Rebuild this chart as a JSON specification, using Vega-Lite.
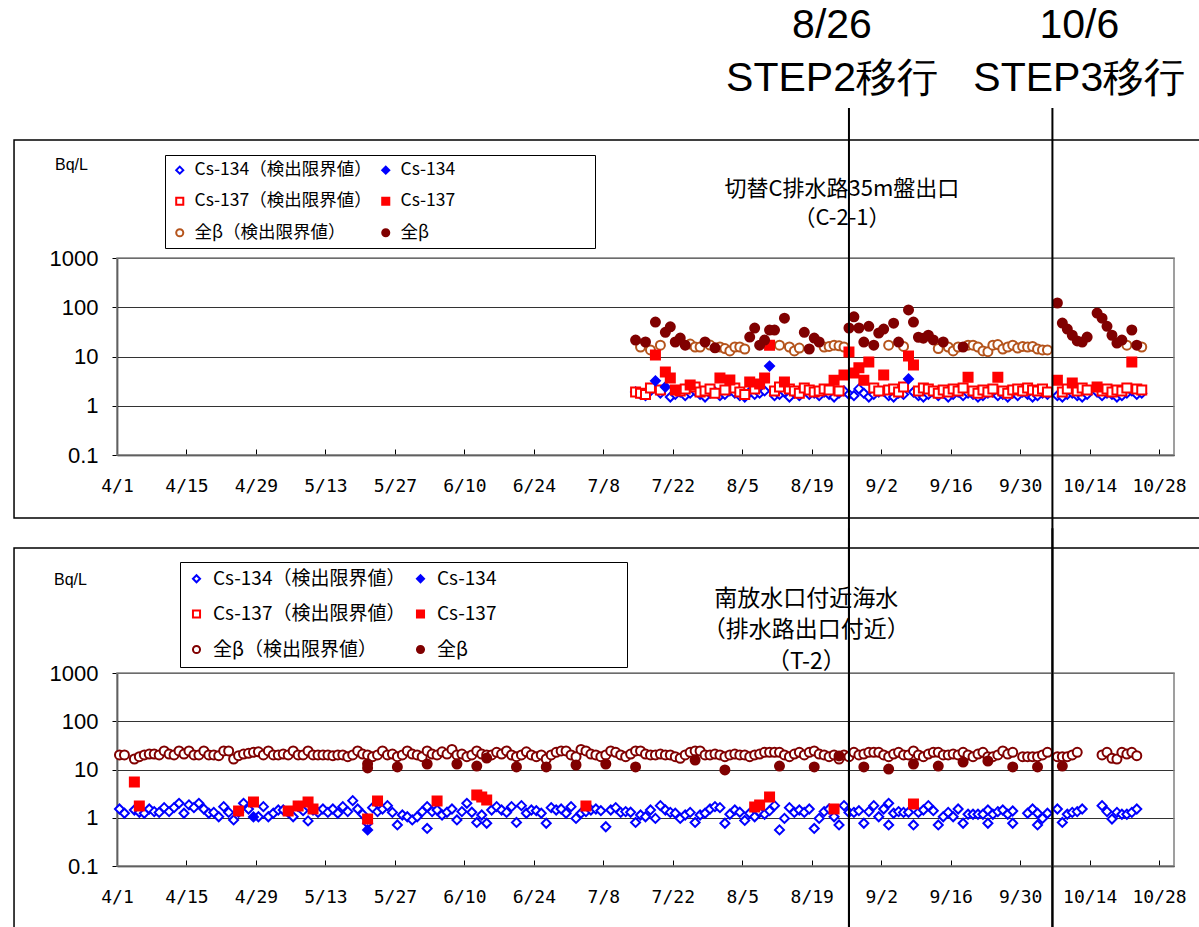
{
"$schema": "https://vega.github.io/schema/vega-lite/v6.json",
"width": 1199, "height": 927, "autosize": {"type": "none"}, "padding": 0,
"background": "white",
"config": {"view": {"stroke": null}, "font": "Noto Sans CJK JP"},
"datasets": {
"steps": [{"d": "2011-08-26"}, {"d": "2011-10-06"}],
"top": [
{"d":"2011-07-14","s":"134L","v":1.9},{"d":"2011-07-15","s":"134L","v":1.7},{"d":"2011-07-16","s":"134L","v":1.6},{"d":"2011-07-17","s":"134L","v":2.0},{"d":"2011-07-19","s":"134L","v":1.8},{"d":"2011-07-21","s":"134L","v":1.5},{"d":"2011-07-22","s":"134L","v":1.7},{"d":"2011-07-23","s":"134L","v":1.9},{"d":"2011-07-24","s":"134L","v":1.6},{"d":"2011-07-25","s":"134L","v":1.8},{"d":"2011-07-26","s":"134L","v":2.0},{"d":"2011-07-27","s":"134L","v":1.7},{"d":"2011-07-28","s":"134L","v":1.5},{"d":"2011-07-29","s":"134L","v":1.8},{"d":"2011-07-30","s":"134L","v":1.9},{"d":"2011-07-31","s":"134L","v":1.6},
{"d":"2011-08-01","s":"134L","v":1.7},{"d":"2011-08-02","s":"134L","v":2.0},{"d":"2011-08-03","s":"134L","v":1.8},{"d":"2011-08-04","s":"134L","v":1.6},{"d":"2011-08-05","s":"134L","v":1.5},{"d":"2011-08-06","s":"134L","v":1.9},{"d":"2011-08-07","s":"134L","v":1.7},{"d":"2011-08-08","s":"134L","v":1.8},{"d":"2011-08-09","s":"134L","v":2.0},{"d":"2011-08-11","s":"134L","v":1.6},{"d":"2011-08-12","s":"134L","v":1.7},{"d":"2011-08-13","s":"134L","v":1.9},{"d":"2011-08-14","s":"134L","v":1.5},{"d":"2011-08-15","s":"134L","v":1.8},{"d":"2011-08-16","s":"134L","v":1.6},{"d":"2011-08-17","s":"134L","v":2.1},{"d":"2011-08-18","s":"134L","v":1.7},{"d":"2011-08-19","s":"134L","v":1.8},{"d":"2011-08-20","s":"134L","v":1.6},{"d":"2011-08-21","s":"134L","v":1.9},{"d":"2011-08-22","s":"134L","v":1.7},{"d":"2011-08-23","s":"134L","v":1.5},{"d":"2011-08-24","s":"134L","v":1.8},{"d":"2011-08-25","s":"134L","v":2.0},{"d":"2011-08-26","s":"134L","v":1.7},{"d":"2011-08-27","s":"134L","v":1.6},{"d":"2011-08-28","s":"134L","v":2.2},{"d":"2011-08-29","s":"134L","v":1.8},{"d":"2011-08-30","s":"134L","v":1.5},{"d":"2011-08-31","s":"134L","v":1.7},
{"d":"2011-09-01","s":"134L","v":1.9},{"d":"2011-09-02","s":"134L","v":2.0},{"d":"2011-09-03","s":"134L","v":1.6},{"d":"2011-09-04","s":"134L","v":1.5},{"d":"2011-09-05","s":"134L","v":1.8},{"d":"2011-09-06","s":"134L","v":1.7},{"d":"2011-09-08","s":"134L","v":1.9},{"d":"2011-09-09","s":"134L","v":1.6},{"d":"2011-09-10","s":"134L","v":1.5},{"d":"2011-09-11","s":"134L","v":1.7},{"d":"2011-09-12","s":"134L","v":1.9},{"d":"2011-09-13","s":"134L","v":1.6},{"d":"2011-09-14","s":"134L","v":1.8},{"d":"2011-09-15","s":"134L","v":1.5},{"d":"2011-09-16","s":"134L","v":1.7},{"d":"2011-09-17","s":"134L","v":1.9},{"d":"2011-09-18","s":"134L","v":1.6},{"d":"2011-09-19","s":"134L","v":1.8},{"d":"2011-09-20","s":"134L","v":1.7},{"d":"2011-09-21","s":"134L","v":1.5},{"d":"2011-09-22","s":"134L","v":1.6},{"d":"2011-09-23","s":"134L","v":1.8},{"d":"2011-09-24","s":"134L","v":1.9},{"d":"2011-09-25","s":"134L","v":1.6},{"d":"2011-09-26","s":"134L","v":1.7},{"d":"2011-09-27","s":"134L","v":1.5},{"d":"2011-09-28","s":"134L","v":1.8},{"d":"2011-09-29","s":"134L","v":1.6},{"d":"2011-09-30","s":"134L","v":1.9},
{"d":"2011-10-01","s":"134L","v":1.7},{"d":"2011-10-02","s":"134L","v":1.5},{"d":"2011-10-03","s":"134L","v":1.6},{"d":"2011-10-04","s":"134L","v":1.8},{"d":"2011-10-05","s":"134L","v":1.7},{"d":"2011-10-07","s":"134L","v":1.6},{"d":"2011-10-08","s":"134L","v":1.5},{"d":"2011-10-09","s":"134L","v":1.7},{"d":"2011-10-10","s":"134L","v":1.8},{"d":"2011-10-11","s":"134L","v":1.6},{"d":"2011-10-12","s":"134L","v":1.5},{"d":"2011-10-13","s":"134L","v":1.7},{"d":"2011-10-15","s":"134L","v":1.9},{"d":"2011-10-16","s":"134L","v":1.6},{"d":"2011-10-17","s":"134L","v":1.8},{"d":"2011-10-18","s":"134L","v":1.7},{"d":"2011-10-19","s":"134L","v":1.5},{"d":"2011-10-20","s":"134L","v":1.6},{"d":"2011-10-21","s":"134L","v":1.8},{"d":"2011-10-22","s":"134L","v":2.0},{"d":"2011-10-23","s":"134L","v":1.7},{"d":"2011-10-24","s":"134L","v":1.8},
{"d":"2011-07-14","s":"137L","v":1.9},{"d":"2011-07-15","s":"137L","v":1.8},{"d":"2011-07-16","s":"137L","v":1.7},{"d":"2011-07-17","s":"137L","v":2.3},{"d":"2011-07-19","s":"137L","v":2.1},{"d":"2011-07-23","s":"137L","v":2.0},{"d":"2011-07-24","s":"137L","v":2.2},{"d":"2011-07-26","s":"137L","v":2.4},{"d":"2011-07-27","s":"137L","v":1.9},{"d":"2011-07-28","s":"137L","v":2.0},{"d":"2011-07-29","s":"137L","v":2.2},{"d":"2011-07-30","s":"137L","v":1.8},{"d":"2011-08-01","s":"137L","v":2.1},{"d":"2011-08-03","s":"137L","v":2.3},{"d":"2011-08-04","s":"137L","v":1.9},{"d":"2011-08-05","s":"137L","v":1.7},{"d":"2011-08-07","s":"137L","v":2.2},{"d":"2011-08-11","s":"137L","v":2.0},{"d":"2011-08-12","s":"137L","v":2.4},{"d":"2011-08-14","s":"137L","v":2.2},{"d":"2011-08-15","s":"137L","v":2.0},{"d":"2011-08-16","s":"137L","v":1.8},{"d":"2011-08-17","s":"137L","v":2.3},{"d":"2011-08-18","s":"137L","v":2.1},{"d":"2011-08-19","s":"137L","v":1.9},{"d":"2011-08-20","s":"137L","v":2.0},{"d":"2011-08-21","s":"137L","v":2.2},{"d":"2011-08-22","s":"137L","v":2.1},{"d":"2011-08-24","s":"137L","v":2.0},{"d":"2011-08-31","s":"137L","v":2.3},
{"d":"2011-09-01","s":"137L","v":2.0},{"d":"2011-09-03","s":"137L","v":2.1},{"d":"2011-09-04","s":"137L","v":2.2},{"d":"2011-09-05","s":"137L","v":1.9},{"d":"2011-09-06","s":"137L","v":2.4},{"d":"2011-09-09","s":"137L","v":2.0},{"d":"2011-09-10","s":"137L","v":2.3},{"d":"2011-09-11","s":"137L","v":2.2},{"d":"2011-09-12","s":"137L","v":2.0},{"d":"2011-09-13","s":"137L","v":1.8},{"d":"2011-09-14","s":"137L","v":2.1},{"d":"2011-09-15","s":"137L","v":1.9},{"d":"2011-09-16","s":"137L","v":2.2},{"d":"2011-09-17","s":"137L","v":2.0},{"d":"2011-09-18","s":"137L","v":2.3},{"d":"2011-09-20","s":"137L","v":2.0},{"d":"2011-09-21","s":"137L","v":1.8},{"d":"2011-09-22","s":"137L","v":2.1},{"d":"2011-09-23","s":"137L","v":1.9},{"d":"2011-09-24","s":"137L","v":2.2},{"d":"2011-09-26","s":"137L","v":2.0},{"d":"2011-09-27","s":"137L","v":1.8},{"d":"2011-09-28","s":"137L","v":2.1},{"d":"2011-09-29","s":"137L","v":2.2},{"d":"2011-09-30","s":"137L","v":2.0},
{"d":"2011-10-01","s":"137L","v":2.3},{"d":"2011-10-02","s":"137L","v":2.1},{"d":"2011-10-03","s":"137L","v":2.0},{"d":"2011-10-04","s":"137L","v":2.2},{"d":"2011-10-05","s":"137L","v":1.9},{"d":"2011-10-08","s":"137L","v":1.9},{"d":"2011-10-09","s":"137L","v":2.2},{"d":"2011-10-11","s":"137L","v":2.0},{"d":"2011-10-12","s":"137L","v":2.3},{"d":"2011-10-13","s":"137L","v":2.1},{"d":"2011-10-16","s":"137L","v":2.0},{"d":"2011-10-17","s":"137L","v":2.2},{"d":"2011-10-18","s":"137L","v":1.9},{"d":"2011-10-19","s":"137L","v":2.1},{"d":"2011-10-20","s":"137L","v":2.0},{"d":"2011-10-21","s":"137L","v":2.3},{"d":"2011-10-23","s":"137L","v":2.2},{"d":"2011-10-24","s":"137L","v":2.1},
{"d":"2011-07-15","s":"bL","v":15.6},{"d":"2011-07-17","s":"bL","v":13.6},{"d":"2011-07-19","s":"bL","v":17},{"d":"2011-07-25","s":"bL","v":17.9},{"d":"2011-07-26","s":"bL","v":15.6},{"d":"2011-07-27","s":"bL","v":15.6},{"d":"2011-07-29","s":"bL","v":17.1},{"d":"2011-07-31","s":"bL","v":15.6},{"d":"2011-08-01","s":"bL","v":14.5},{"d":"2011-08-02","s":"bL","v":13},{"d":"2011-08-03","s":"bL","v":15.6},{"d":"2011-08-04","s":"bL","v":15.6},{"d":"2011-08-05","s":"bL","v":14.2},{"d":"2011-08-12","s":"bL","v":17},{"d":"2011-08-14","s":"bL","v":15.6},{"d":"2011-08-15","s":"bL","v":13},{"d":"2011-08-16","s":"bL","v":14.8},{"d":"2011-08-21","s":"bL","v":15.6},{"d":"2011-08-22","s":"bL","v":16},{"d":"2011-08-23","s":"bL","v":17},{"d":"2011-08-24","s":"bL","v":16.5},{"d":"2011-08-25","s":"bL","v":15.6},{"d":"2011-09-03","s":"bL","v":17},{"d":"2011-09-06","s":"bL","v":16},{"d":"2011-09-13","s":"bL","v":14.5},{"d":"2011-09-15","s":"bL","v":15.6},{"d":"2011-09-16","s":"bL","v":13},{"d":"2011-09-17","s":"bL","v":15.6},{"d":"2011-09-19","s":"bL","v":17},{"d":"2011-09-20","s":"bL","v":17},{"d":"2011-09-21","s":"bL","v":15.6},{"d":"2011-09-22","s":"bL","v":13},{"d":"2011-09-23","s":"bL","v":12.5},{"d":"2011-09-24","s":"bL","v":17},{"d":"2011-09-25","s":"bL","v":17.5},{"d":"2011-09-26","s":"bL","v":14.2},{"d":"2011-09-27","s":"bL","v":15.6},{"d":"2011-09-28","s":"bL","v":17},{"d":"2011-09-29","s":"bL","v":14.8},{"d":"2011-09-30","s":"bL","v":16},{"d":"2011-10-01","s":"bL","v":15.6},{"d":"2011-10-02","s":"bL","v":16},{"d":"2011-10-03","s":"bL","v":14.2},{"d":"2011-10-04","s":"bL","v":13.6},{"d":"2011-10-05","s":"bL","v":13.6},{"d":"2011-10-21","s":"bL","v":17},{"d":"2011-10-24","s":"bL","v":15.6},
{"d":"2011-07-18","s":"134","v":3.2},{"d":"2011-07-20","s":"134","v":2.4},{"d":"2011-08-10","s":"134","v":6.4},{"d":"2011-09-07","s":"134","v":3.5},
{"d":"2011-07-18","s":"137","v":10.7},{"d":"2011-07-20","s":"137","v":4.85},{"d":"2011-07-21","s":"137","v":3.66},{"d":"2011-07-22","s":"137","v":2.09},{"d":"2011-07-25","s":"137","v":2.64},{"d":"2011-07-31","s":"137","v":3.66},{"d":"2011-08-02","s":"137","v":3.33},{"d":"2011-08-06","s":"137","v":3.04},{"d":"2011-08-08","s":"137","v":2.77},{"d":"2011-08-09","s":"137","v":3.66},{"d":"2011-08-10","s":"137","v":17},{"d":"2011-08-13","s":"137","v":3.04},{"d":"2011-08-23","s":"137","v":3.3},{"d":"2011-08-25","s":"137","v":4.2},{"d":"2011-08-26","s":"137","v":12.3},{"d":"2011-08-27","s":"137","v":4.6},{"d":"2011-08-28","s":"137","v":5.9},{"d":"2011-08-29","s":"137","v":3.3},{"d":"2011-08-30","s":"137","v":7.7},{"d":"2011-09-02","s":"137","v":4.2},{"d":"2011-09-07","s":"137","v":10.2},{"d":"2011-09-08","s":"137","v":6.7},{"d":"2011-09-19","s":"137","v":3.8},{"d":"2011-09-25","s":"137","v":3.8},{"d":"2011-10-07","s":"137","v":3.3},{"d":"2011-10-10","s":"137","v":2.9},{"d":"2011-10-15","s":"137","v":2.4},{"d":"2011-10-22","s":"137","v":7.7},
{"d":"2011-07-14","s":"b","v":21.6},{"d":"2011-07-16","s":"b","v":19.7},{"d":"2011-07-18","s":"b","v":50},{"d":"2011-07-20","s":"b","v":31},{"d":"2011-07-21","s":"b","v":40},{"d":"2011-07-22","s":"b","v":19.7},{"d":"2011-07-23","s":"b","v":23.7},{"d":"2011-07-24","s":"b","v":17},{"d":"2011-07-28","s":"b","v":19.7},{"d":"2011-07-30","s":"b","v":15},{"d":"2011-08-06","s":"b","v":24.8},{"d":"2011-08-07","s":"b","v":37.7},{"d":"2011-08-08","s":"b","v":17},{"d":"2011-08-09","s":"b","v":21.6},{"d":"2011-08-10","s":"b","v":34.4},{"d":"2011-08-11","s":"b","v":34.4},{"d":"2011-08-13","s":"b","v":60},{"d":"2011-08-17","s":"b","v":31},{"d":"2011-08-18","s":"b","v":14.2},{"d":"2011-08-19","s":"b","v":23.7},{"d":"2011-08-20","s":"b","v":19.7},{"d":"2011-08-26","s":"b","v":37.9},{"d":"2011-08-27","s":"b","v":64},{"d":"2011-08-28","s":"b","v":37.9},{"d":"2011-08-29","s":"b","v":19.6},{"d":"2011-08-30","s":"b","v":41},{"d":"2011-08-31","s":"b","v":17},{"d":"2011-09-01","s":"b","v":30},{"d":"2011-09-02","s":"b","v":36},{"d":"2011-09-04","s":"b","v":47.5},{"d":"2011-09-05","s":"b","v":19.6},{"d":"2011-09-07","s":"b","v":88},{"d":"2011-09-08","s":"b","v":50},{"d":"2011-09-09","s":"b","v":24.6},{"d":"2011-09-10","s":"b","v":23.6},{"d":"2011-09-11","s":"b","v":27},{"d":"2011-09-12","s":"b","v":21.7},{"d":"2011-09-14","s":"b","v":19.7},{"d":"2011-09-18","s":"b","v":15.6},{"d":"2011-10-07","s":"b","v":122},{"d":"2011-10-08","s":"b","v":47.8},{"d":"2011-10-09","s":"b","v":36},{"d":"2011-10-10","s":"b","v":27},{"d":"2011-10-11","s":"b","v":20.7},{"d":"2011-10-12","s":"b","v":19.7},{"d":"2011-10-13","s":"b","v":24.8},{"d":"2011-10-15","s":"b","v":76},{"d":"2011-10-16","s":"b","v":60},{"d":"2011-10-17","s":"b","v":41},{"d":"2011-10-18","s":"b","v":27},{"d":"2011-10-19","s":"b","v":18.7},{"d":"2011-10-20","s":"b","v":21.6},{"d":"2011-10-22","s":"b","v":34.5},{"d":"2011-10-23","s":"b","v":17}
],
"bot": [
{"d":"2011-04-01","s":"134L","v":1.52},{"d":"2011-04-02","s":"134L","v":1.24},{"d":"2011-04-04","s":"134L","v":1.45},{"d":"2011-04-05","s":"134L","v":1.3},{"d":"2011-04-06","s":"134L","v":1.24},{"d":"2011-04-07","s":"134L","v":1.52},{"d":"2011-04-08","s":"134L","v":1.34},{"d":"2011-04-09","s":"134L","v":1.29},{"d":"2011-04-10","s":"134L","v":1.62},{"d":"2011-04-11","s":"134L","v":1.34},{"d":"2011-04-12","s":"134L","v":1.62},{"d":"2011-04-13","s":"134L","v":1.99},{"d":"2011-04-14","s":"134L","v":1.24},{"d":"2011-04-15","s":"134L","v":1.85},{"d":"2011-04-16","s":"134L","v":1.62},{"d":"2011-04-17","s":"134L","v":1.99},{"d":"2011-04-18","s":"134L","v":1.52},{"d":"2011-04-19","s":"134L","v":1.24},{"d":"2011-04-20","s":"134L","v":1.29},{"d":"2011-04-21","s":"134L","v":1.05},{"d":"2011-04-22","s":"134L","v":1.7},{"d":"2011-04-23","s":"134L","v":1.29},{"d":"2011-04-24","s":"134L","v":0.9},{"d":"2011-04-25","s":"134L","v":1.3},{"d":"2011-04-26","s":"134L","v":1.99},{"d":"2011-04-27","s":"134L","v":1.52},{"d":"2011-04-29","s":"134L","v":1.05},{"d":"2011-04-30","s":"134L","v":1.7},
{"d":"2011-05-01","s":"134L","v":1.05},{"d":"2011-05-02","s":"134L","v":1.24},{"d":"2011-05-03","s":"134L","v":1.45},{"d":"2011-05-04","s":"134L","v":1.45},{"d":"2011-05-05","s":"134L","v":1.3},{"d":"2011-05-06","s":"134L","v":1.05},{"d":"2011-05-07","s":"134L","v":1.7},{"d":"2011-05-08","s":"134L","v":1.4},{"d":"2011-05-09","s":"134L","v":0.86},{"d":"2011-05-10","s":"134L","v":1.45},{"d":"2011-05-11","s":"134L","v":1.29},{"d":"2011-05-12","s":"134L","v":1.52},{"d":"2011-05-13","s":"134L","v":1.29},{"d":"2011-05-14","s":"134L","v":1.52},{"d":"2011-05-15","s":"134L","v":1.24},{"d":"2011-05-16","s":"134L","v":1.7},{"d":"2011-05-17","s":"134L","v":1.34},{"d":"2011-05-18","s":"134L","v":2.26},{"d":"2011-05-19","s":"134L","v":1.52},{"d":"2011-05-20","s":"134L","v":1.18},{"d":"2011-05-21","s":"134L","v":0.77},{"d":"2011-05-22","s":"134L","v":1.62},{"d":"2011-05-23","s":"134L","v":1.34},{"d":"2011-05-24","s":"134L","v":1.52},{"d":"2011-05-25","s":"134L","v":1.78},{"d":"2011-05-26","s":"134L","v":1.29},{"d":"2011-05-27","s":"134L","v":0.71},{"d":"2011-05-28","s":"134L","v":1.14},{"d":"2011-05-29","s":"134L","v":1.05},{"d":"2011-05-30","s":"134L","v":0.9},{"d":"2011-05-31","s":"134L","v":1.05},
{"d":"2011-06-01","s":"134L","v":1.34},{"d":"2011-06-02","s":"134L","v":1.7},{"d":"2011-06-02","s":"134L","v":0.6},{"d":"2011-06-03","s":"134L","v":1.34},{"d":"2011-06-04","s":"134L","v":1.45},{"d":"2011-06-05","s":"134L","v":1.14},{"d":"2011-06-06","s":"134L","v":1.3},{"d":"2011-06-07","s":"134L","v":1.52},{"d":"2011-06-08","s":"134L","v":0.9},{"d":"2011-06-09","s":"134L","v":1.34},{"d":"2011-06-10","s":"134L","v":1.99},{"d":"2011-06-11","s":"134L","v":1.3},{"d":"2011-06-12","s":"134L","v":0.8},{"d":"2011-06-13","s":"134L","v":1.14},{"d":"2011-06-14","s":"134L","v":0.77},{"d":"2011-06-15","s":"134L","v":1.45},{"d":"2011-06-16","s":"134L","v":1.7},{"d":"2011-06-17","s":"134L","v":1.45},{"d":"2011-06-18","s":"134L","v":1.29},{"d":"2011-06-19","s":"134L","v":1.7},{"d":"2011-06-20","s":"134L","v":0.8},{"d":"2011-06-21","s":"134L","v":1.78},{"d":"2011-06-22","s":"134L","v":1.24},{"d":"2011-06-23","s":"134L","v":1.45},{"d":"2011-06-24","s":"134L","v":1.4},{"d":"2011-06-25","s":"134L","v":1.24},{"d":"2011-06-26","s":"134L","v":0.77},{"d":"2011-06-27","s":"134L","v":1.62},{"d":"2011-06-28","s":"134L","v":1.45},{"d":"2011-06-29","s":"134L","v":1.52},{"d":"2011-06-30","s":"134L","v":1.24},
{"d":"2011-07-01","s":"134L","v":1.7},{"d":"2011-07-02","s":"134L","v":0.97},{"d":"2011-07-03","s":"134L","v":1.24},{"d":"2011-07-04","s":"134L","v":1.34},{"d":"2011-07-05","s":"134L","v":1.45},{"d":"2011-07-06","s":"134L","v":1.52},{"d":"2011-07-07","s":"134L","v":1.4},{"d":"2011-07-08","s":"134L","v":0.65},{"d":"2011-07-09","s":"134L","v":1.45},{"d":"2011-07-10","s":"134L","v":1.62},{"d":"2011-07-11","s":"134L","v":1.29},{"d":"2011-07-12","s":"134L","v":1.34},{"d":"2011-07-13","s":"134L","v":1.3},{"d":"2011-07-14","s":"134L","v":0.8},{"d":"2011-07-15","s":"134L","v":1.14},{"d":"2011-07-16","s":"134L","v":1.05},{"d":"2011-07-17","s":"134L","v":1.45},{"d":"2011-07-18","s":"134L","v":0.97},{"d":"2011-07-19","s":"134L","v":1.78},{"d":"2011-07-20","s":"134L","v":1.45},{"d":"2011-07-21","s":"134L","v":1.29},{"d":"2011-07-22","s":"134L","v":1.24},{"d":"2011-07-23","s":"134L","v":0.97},{"d":"2011-07-24","s":"134L","v":1.14},{"d":"2011-07-25","s":"134L","v":1.29},{"d":"2011-07-26","s":"134L","v":0.8},{"d":"2011-07-27","s":"134L","v":1.14},{"d":"2011-07-28","s":"134L","v":1.24},{"d":"2011-07-29","s":"134L","v":1.52},{"d":"2011-07-30","s":"134L","v":1.7},{"d":"2011-07-31","s":"134L","v":1.62},
{"d":"2011-08-01","s":"134L","v":0.77},{"d":"2011-08-02","s":"134L","v":1.18},{"d":"2011-08-03","s":"134L","v":1.45},{"d":"2011-08-04","s":"134L","v":1.3},{"d":"2011-08-05","s":"134L","v":0.88},{"d":"2011-08-06","s":"134L","v":1.24},{"d":"2011-08-07","s":"134L","v":1.05},{"d":"2011-08-08","s":"134L","v":1.3},{"d":"2011-08-09","s":"134L","v":1.18},{"d":"2011-08-10","s":"134L","v":1.4},{"d":"2011-08-11","s":"134L","v":1.78},{"d":"2011-08-12","s":"134L","v":0.56},{"d":"2011-08-13","s":"134L","v":0.97},{"d":"2011-08-14","s":"134L","v":1.62},{"d":"2011-08-15","s":"134L","v":1.29},{"d":"2011-08-16","s":"134L","v":1.45},{"d":"2011-08-17","s":"134L","v":1.29},{"d":"2011-08-18","s":"134L","v":1.52},{"d":"2011-08-19","s":"134L","v":0.6},{"d":"2011-08-20","s":"134L","v":0.97},{"d":"2011-08-21","s":"134L","v":1.34},{"d":"2011-08-22","s":"134L","v":1.52},{"d":"2011-08-23","s":"134L","v":1.05},{"d":"2011-08-24","s":"134L","v":0.71},{"d":"2011-08-25","s":"134L","v":1.78},{"d":"2011-08-26","s":"134L","v":1.29},{"d":"2011-08-27","s":"134L","v":1.29},{"d":"2011-08-28","s":"134L","v":1.4},{"d":"2011-08-29","s":"134L","v":0.77},{"d":"2011-08-30","s":"134L","v":1.34},{"d":"2011-08-31","s":"134L","v":1.78},
{"d":"2011-09-01","s":"134L","v":1.05},{"d":"2011-09-02","s":"134L","v":1.52},{"d":"2011-09-03","s":"134L","v":1.99},{"d":"2011-09-03","s":"134L","v":0.71},{"d":"2011-09-04","s":"134L","v":1.24},{"d":"2011-09-05","s":"134L","v":1.34},{"d":"2011-09-06","s":"134L","v":1.29},{"d":"2011-09-07","s":"134L","v":1.3},{"d":"2011-09-08","s":"134L","v":0.71},{"d":"2011-09-09","s":"134L","v":1.29},{"d":"2011-09-10","s":"134L","v":1.45},{"d":"2011-09-11","s":"134L","v":1.78},{"d":"2011-09-12","s":"134L","v":1.4},{"d":"2011-09-13","s":"134L","v":0.71},{"d":"2011-09-14","s":"134L","v":1.05},{"d":"2011-09-15","s":"134L","v":1.29},{"d":"2011-09-16","s":"134L","v":1.05},{"d":"2011-09-17","s":"134L","v":1.52},{"d":"2011-09-18","s":"134L","v":0.77},{"d":"2011-09-19","s":"134L","v":1.18},{"d":"2011-09-20","s":"134L","v":1.18},{"d":"2011-09-21","s":"134L","v":1.18},{"d":"2011-09-22","s":"134L","v":1.18},{"d":"2011-09-23","s":"134L","v":1.45},{"d":"2011-09-23","s":"134L","v":0.77},{"d":"2011-09-24","s":"134L","v":1.18},{"d":"2011-09-25","s":"134L","v":1.34},{"d":"2011-09-26","s":"134L","v":1.45},{"d":"2011-09-27","s":"134L","v":1.18},{"d":"2011-09-28","s":"134L","v":1.38},{"d":"2011-09-28","s":"134L","v":0.77},
{"d":"2011-10-01","s":"134L","v":1.24},{"d":"2011-10-02","s":"134L","v":1.52},{"d":"2011-10-03","s":"134L","v":1.24},{"d":"2011-10-03","s":"134L","v":0.71},{"d":"2011-10-04","s":"134L","v":0.97},{"d":"2011-10-05","s":"134L","v":1.24},{"d":"2011-10-07","s":"134L","v":1.52},{"d":"2011-10-08","s":"134L","v":0.8},{"d":"2011-10-09","s":"134L","v":1.18},{"d":"2011-10-10","s":"134L","v":1.29},{"d":"2011-10-11","s":"134L","v":1.34},{"d":"2011-10-12","s":"134L","v":1.52},{"d":"2011-10-16","s":"134L","v":1.78},{"d":"2011-10-17","s":"134L","v":1.34},{"d":"2011-10-18","s":"134L","v":0.94},{"d":"2011-10-19","s":"134L","v":1.29},{"d":"2011-10-20","s":"134L","v":1.18},{"d":"2011-10-21","s":"134L","v":1.18},{"d":"2011-10-22","s":"134L","v":1.29},{"d":"2011-10-23","s":"134L","v":1.52},
{"d":"2011-04-01","s":"bL","v":20.0},{"d":"2011-04-02","s":"bL","v":20.0},{"d":"2011-04-04","s":"bL","v":16.5},{"d":"2011-04-05","s":"bL","v":18.4},{"d":"2011-04-06","s":"bL","v":20.0},{"d":"2011-04-07","s":"bL","v":20.9},{"d":"2011-04-08","s":"bL","v":20.9},{"d":"2011-04-09","s":"bL","v":20.0},{"d":"2011-04-10","s":"bL","v":24.2},{"d":"2011-04-11","s":"bL","v":20.9},{"d":"2011-04-12","s":"bL","v":20.0},{"d":"2011-04-13","s":"bL","v":24.2},{"d":"2011-04-14","s":"bL","v":20.9},{"d":"2011-04-15","s":"bL","v":24.2},{"d":"2011-04-16","s":"bL","v":20.0},{"d":"2011-04-17","s":"bL","v":20.0},{"d":"2011-04-18","s":"bL","v":24.2},{"d":"2011-04-19","s":"bL","v":20.0},{"d":"2011-04-20","s":"bL","v":20.0},{"d":"2011-04-21","s":"bL","v":19.3},{"d":"2011-04-22","s":"bL","v":24.2},{"d":"2011-04-23","s":"bL","v":24.2},{"d":"2011-04-24","s":"bL","v":16.5},{"d":"2011-04-25","s":"bL","v":19.3},{"d":"2011-04-26","s":"bL","v":20.9},{"d":"2011-04-27","s":"bL","v":21.6},{"d":"2011-04-28","s":"bL","v":22.7},{"d":"2011-04-29","s":"bL","v":23.2},{"d":"2011-04-30","s":"bL","v":20.0},
{"d":"2011-05-01","s":"bL","v":24.2},{"d":"2011-05-02","s":"bL","v":20.0},{"d":"2011-05-03","s":"bL","v":20.0},{"d":"2011-05-04","s":"bL","v":20.9},{"d":"2011-05-05","s":"bL","v":20.0},{"d":"2011-05-06","s":"bL","v":24.2},{"d":"2011-05-07","s":"bL","v":20.0},{"d":"2011-05-08","s":"bL","v":20.0},{"d":"2011-05-09","s":"bL","v":24.2},{"d":"2011-05-10","s":"bL","v":20.0},{"d":"2011-05-11","s":"bL","v":20.0},{"d":"2011-05-12","s":"bL","v":20.0},{"d":"2011-05-13","s":"bL","v":20.0},{"d":"2011-05-14","s":"bL","v":19.3},{"d":"2011-05-15","s":"bL","v":20.0},{"d":"2011-05-16","s":"bL","v":20.0},{"d":"2011-05-17","s":"bL","v":18.4},{"d":"2011-05-18","s":"bL","v":20.0},{"d":"2011-05-19","s":"bL","v":24.2},{"d":"2011-05-20","s":"bL","v":20.9},{"d":"2011-05-21","s":"bL","v":20.0},{"d":"2011-05-22","s":"bL","v":18.4},{"d":"2011-05-23","s":"bL","v":20.0},{"d":"2011-05-24","s":"bL","v":24.2},{"d":"2011-05-25","s":"bL","v":20.0},{"d":"2011-05-26","s":"bL","v":20.9},{"d":"2011-05-27","s":"bL","v":18.4},{"d":"2011-05-28","s":"bL","v":20.0},{"d":"2011-05-29","s":"bL","v":24.2},{"d":"2011-05-30","s":"bL","v":20.9},{"d":"2011-05-31","s":"bL","v":20.0},
{"d":"2011-06-01","s":"bL","v":18.4},{"d":"2011-06-02","s":"bL","v":24.2},{"d":"2011-06-03","s":"bL","v":20.9},{"d":"2011-06-04","s":"bL","v":20.0},{"d":"2011-06-05","s":"bL","v":23.2},{"d":"2011-06-06","s":"bL","v":20.9},{"d":"2011-06-07","s":"bL","v":26.0},{"d":"2011-06-08","s":"bL","v":20.0},{"d":"2011-06-09","s":"bL","v":20.9},{"d":"2011-06-10","s":"bL","v":18.4},{"d":"2011-06-11","s":"bL","v":20.0},{"d":"2011-06-12","s":"bL","v":24.2},{"d":"2011-06-13","s":"bL","v":20.9},{"d":"2011-06-14","s":"bL","v":20.0},{"d":"2011-06-15","s":"bL","v":20.0},{"d":"2011-06-16","s":"bL","v":22.7},{"d":"2011-06-17","s":"bL","v":20.9},{"d":"2011-06-18","s":"bL","v":24.2},{"d":"2011-06-19","s":"bL","v":20.0},{"d":"2011-06-20","s":"bL","v":18.4},{"d":"2011-06-21","s":"bL","v":20.0},{"d":"2011-06-22","s":"bL","v":23.2},{"d":"2011-06-23","s":"bL","v":20.0},{"d":"2011-06-24","s":"bL","v":18.4},{"d":"2011-06-25","s":"bL","v":20.0},{"d":"2011-06-26","s":"bL","v":16.5},{"d":"2011-06-27","s":"bL","v":20.0},{"d":"2011-06-28","s":"bL","v":22.7},{"d":"2011-06-29","s":"bL","v":24.2},{"d":"2011-06-30","s":"bL","v":24.2},
{"d":"2011-07-01","s":"bL","v":20.0},{"d":"2011-07-02","s":"bL","v":18.4},{"d":"2011-07-03","s":"bL","v":26.0},{"d":"2011-07-04","s":"bL","v":24.2},{"d":"2011-07-05","s":"bL","v":20.9},{"d":"2011-07-06","s":"bL","v":20.0},{"d":"2011-07-07","s":"bL","v":18.4},{"d":"2011-07-08","s":"bL","v":20.0},{"d":"2011-07-09","s":"bL","v":24.2},{"d":"2011-07-10","s":"bL","v":22.7},{"d":"2011-07-11","s":"bL","v":20.0},{"d":"2011-07-12","s":"bL","v":18.4},{"d":"2011-07-13","s":"bL","v":20.9},{"d":"2011-07-14","s":"bL","v":24.2},{"d":"2011-07-15","s":"bL","v":24.2},{"d":"2011-07-16","s":"bL","v":20.9},{"d":"2011-07-17","s":"bL","v":20.0},{"d":"2011-07-18","s":"bL","v":20.0},{"d":"2011-07-19","s":"bL","v":20.9},{"d":"2011-07-20","s":"bL","v":20.0},{"d":"2011-07-21","s":"bL","v":20.0},{"d":"2011-07-22","s":"bL","v":18.4},{"d":"2011-07-23","s":"bL","v":17.1},{"d":"2011-07-24","s":"bL","v":20.0},{"d":"2011-07-25","s":"bL","v":22.7},{"d":"2011-07-26","s":"bL","v":24.2},{"d":"2011-07-27","s":"bL","v":24.2},{"d":"2011-07-28","s":"bL","v":20.0},{"d":"2011-07-29","s":"bL","v":20.0},{"d":"2011-07-30","s":"bL","v":20.9},{"d":"2011-07-31","s":"bL","v":20.0},
{"d":"2011-08-01","s":"bL","v":18.4},{"d":"2011-08-02","s":"bL","v":20.0},{"d":"2011-08-03","s":"bL","v":20.9},{"d":"2011-08-04","s":"bL","v":20.0},{"d":"2011-08-05","s":"bL","v":20.0},{"d":"2011-08-06","s":"bL","v":18.4},{"d":"2011-08-07","s":"bL","v":20.0},{"d":"2011-08-08","s":"bL","v":20.9},{"d":"2011-08-09","s":"bL","v":22.7},{"d":"2011-08-10","s":"bL","v":22.7},{"d":"2011-08-11","s":"bL","v":22.7},{"d":"2011-08-12","s":"bL","v":22.7},{"d":"2011-08-13","s":"bL","v":20.0},{"d":"2011-08-14","s":"bL","v":18.4},{"d":"2011-08-15","s":"bL","v":20.9},{"d":"2011-08-16","s":"bL","v":22.7},{"d":"2011-08-17","s":"bL","v":20.0},{"d":"2011-08-18","s":"bL","v":22.7},{"d":"2011-08-19","s":"bL","v":24.2},{"d":"2011-08-20","s":"bL","v":20.9},{"d":"2011-08-21","s":"bL","v":20.0},{"d":"2011-08-22","s":"bL","v":18.4},{"d":"2011-08-23","s":"bL","v":20.0},{"d":"2011-08-24","s":"bL","v":16.5},{"d":"2011-08-25","s":"bL","v":20.0},{"d":"2011-08-26","s":"bL","v":18.4},{"d":"2011-08-27","s":"bL","v":22.7},{"d":"2011-08-28","s":"bL","v":20.0},{"d":"2011-08-29","s":"bL","v":20.9},{"d":"2011-08-30","s":"bL","v":22.7},{"d":"2011-08-31","s":"bL","v":22.7},
{"d":"2011-09-01","s":"bL","v":22.7},{"d":"2011-09-02","s":"bL","v":20.0},{"d":"2011-09-03","s":"bL","v":18.4},{"d":"2011-09-04","s":"bL","v":20.9},{"d":"2011-09-05","s":"bL","v":22.7},{"d":"2011-09-06","s":"bL","v":20.0},{"d":"2011-09-07","s":"bL","v":20.0},{"d":"2011-09-08","s":"bL","v":24.2},{"d":"2011-09-09","s":"bL","v":20.0},{"d":"2011-09-10","s":"bL","v":18.4},{"d":"2011-09-11","s":"bL","v":20.9},{"d":"2011-09-12","s":"bL","v":22.7},{"d":"2011-09-13","s":"bL","v":22.7},{"d":"2011-09-14","s":"bL","v":20.0},{"d":"2011-09-15","s":"bL","v":20.0},{"d":"2011-09-16","s":"bL","v":20.9},{"d":"2011-09-17","s":"bL","v":20.0},{"d":"2011-09-18","s":"bL","v":22.7},{"d":"2011-09-19","s":"bL","v":20.0},{"d":"2011-09-20","s":"bL","v":18.4},{"d":"2011-09-21","s":"bL","v":20.9},{"d":"2011-09-22","s":"bL","v":22.7},{"d":"2011-09-23","s":"bL","v":18.4},{"d":"2011-09-24","s":"bL","v":18.4},{"d":"2011-09-25","s":"bL","v":20.0},{"d":"2011-09-26","s":"bL","v":24.2},{"d":"2011-09-27","s":"bL","v":20.9},{"d":"2011-09-28","s":"bL","v":22.7},{"d":"2011-09-30","s":"bL","v":18.4},
{"d":"2011-10-01","s":"bL","v":18.4},{"d":"2011-10-02","s":"bL","v":18.4},{"d":"2011-10-03","s":"bL","v":18.4},{"d":"2011-10-04","s":"bL","v":20.0},{"d":"2011-10-05","s":"bL","v":22.7},{"d":"2011-10-07","s":"bL","v":18.4},{"d":"2011-10-08","s":"bL","v":18.4},{"d":"2011-10-09","s":"bL","v":18.4},{"d":"2011-10-10","s":"bL","v":20.0},{"d":"2011-10-11","s":"bL","v":22.7},{"d":"2011-10-16","s":"bL","v":20.0},{"d":"2011-10-17","s":"bL","v":22.7},{"d":"2011-10-18","s":"bL","v":17.1},{"d":"2011-10-19","s":"bL","v":16.5},{"d":"2011-10-20","s":"bL","v":22.7},{"d":"2011-10-21","s":"bL","v":20.9},{"d":"2011-10-22","s":"bL","v":22.7},{"d":"2011-10-23","s":"bL","v":19.3},
{"d":"2011-04-28","s":"134","v":1.04},{"d":"2011-05-21","s":"134","v":0.56},
{"d":"2011-04-04","s":"137","v":5.5},{"d":"2011-04-05","s":"137","v":1.75},{"d":"2011-04-25","s":"137","v":1.38},{"d":"2011-04-28","s":"137","v":2.12},{"d":"2011-05-05","s":"137","v":1.38},{"d":"2011-05-07","s":"137","v":1.75},{"d":"2011-05-09","s":"137","v":2.12},{"d":"2011-05-10","s":"137","v":1.52},{"d":"2011-05-21","s":"137","v":0.94},{"d":"2011-05-23","s":"137","v":2.22},{"d":"2011-06-04","s":"137","v":2.22},{"d":"2011-06-12","s":"137","v":2.96},{"d":"2011-06-13","s":"137","v":2.69},{"d":"2011-06-14","s":"137","v":2.33},{"d":"2011-07-04","s":"137","v":1.75},{"d":"2011-08-07","s":"137","v":1.67},{"d":"2011-08-08","s":"137","v":1.84},{"d":"2011-08-10","s":"137","v":2.69},{"d":"2011-08-23","s":"137","v":1.52},{"d":"2011-09-08","s":"137","v":1.93},
{"d":"2011-05-21","s":"b","v":13.0},{"d":"2011-05-21","s":"b","v":10.8},{"d":"2011-05-27","s":"b","v":11.3},{"d":"2011-06-02","s":"b","v":13.0},{"d":"2011-06-08","s":"b","v":13.0},{"d":"2011-06-12","s":"b","v":11.8},{"d":"2011-06-14","s":"b","v":17.3},{"d":"2011-06-20","s":"b","v":11.3},{"d":"2011-06-26","s":"b","v":11.3},{"d":"2011-07-02","s":"b","v":12.4},{"d":"2011-07-08","s":"b","v":13.0},{"d":"2011-07-14","s":"b","v":11.3},{"d":"2011-07-26","s":"b","v":15.7},{"d":"2011-08-01","s":"b","v":9.8},{"d":"2011-08-12","s":"b","v":11.8},{"d":"2011-08-19","s":"b","v":11.3},{"d":"2011-08-24","s":"b","v":19.1},{"d":"2011-08-29","s":"b","v":11.3},{"d":"2011-09-03","s":"b","v":10.2},{"d":"2011-09-08","s":"b","v":13.0},{"d":"2011-09-13","s":"b","v":11.8},{"d":"2011-09-18","s":"b","v":14.3},{"d":"2011-09-23","s":"b","v":15.0},{"d":"2011-09-28","s":"b","v":11.3},{"d":"2011-10-03","s":"b","v":11.3},{"d":"2011-10-08","s":"b","v":11.8}
]
},
"resolve": {
  "scale": {"x": "independent", "y": "independent", "shape": "independent", "fill": "independent", "stroke": "independent"},
  "axis": {"x": "independent", "y": "independent"},
  "legend": {"shape": "independent", "fill": "independent", "stroke": "independent"}
},
"layer": [
{
  "layer": [
    {"data": {"values": [{}]},
     "mark": {"type": "rect", "fillOpacity": 0, "stroke": "black", "strokeWidth": 1.5},
     "encoding": {
       "x": {"datum": {"year": 2011, "month": 3, "date": 10, "hours": 18, "utc": true}, "type": "temporal"},
       "x2": {"datum": {"year": 2011, "month": 11, "date": 6, "utc": true}},
       "y": {"datum": 249000, "type": "quantitative"},
       "y2": {"datum": 0.00526}
     }},
    {"data": {"values": [{}]},
     "mark": {"type": "rect", "fillOpacity": 0, "stroke": "#808080", "strokeWidth": 1.5},
     "encoding": {
       "x": {"datum": {"year": 2011, "month": 3, "date": 31, "hours": 12, "utc": true}, "type": "temporal"},
       "x2": {"datum": {"year": 2011, "month": 10, "date": 30, "hours": 12, "utc": true}},
       "y": {"datum": 1000, "type": "quantitative"},
       "y2": {"datum": 0.1}
     }},
    {"data": {"name": "top"},
     "mark": {"type": "point", "size": 81, "strokeWidth": 2, "opacity": 1},
     "encoding": {
       "x": {"field": "d", "type": "temporal",
             "scale": {"type": "utc", "domain": [{"year": 2011, "month": 3, "date": 31, "hours": 12, "utc": true}, {"year": 2011, "month": 10, "date": 30, "hours": 12, "utc": true}], "range": [117, 1174], "nice": false},
             "axis": {"orient": "bottom", "offset": -472, "title": null, "grid": false,
                      "values": [{"year":2011,"month":3,"date":31,"hours":12,"utc":true},{"year":2011,"month":4,"date":14,"hours":12,"utc":true},{"year":2011,"month":4,"date":28,"hours":12,"utc":true},{"year":2011,"month":5,"date":12,"hours":12,"utc":true},{"year":2011,"month":5,"date":26,"hours":12,"utc":true},{"year":2011,"month":6,"date":9,"hours":12,"utc":true},{"year":2011,"month":6,"date":23,"hours":12,"utc":true},{"year":2011,"month":7,"date":7,"hours":12,"utc":true},{"year":2011,"month":7,"date":21,"hours":12,"utc":true},{"year":2011,"month":8,"date":4,"hours":12,"utc":true},{"year":2011,"month":8,"date":18,"hours":12,"utc":true},{"year":2011,"month":9,"date":1,"hours":12,"utc":true},{"year":2011,"month":9,"date":15,"hours":12,"utc":true},{"year":2011,"month":9,"date":29,"hours":12,"utc":true},{"year":2011,"month":10,"date":13,"hours":12,"utc":true},{"year":2011,"month":10,"date":27,"hours":12,"utc":true}],
                      "labelExpr": "utcFormat(datum.value + 43200000, '%-m/%-d')",
                      "domainColor": "black", "domainWidth": 1.5, "tickColor": "black", "tickSize": -6, "tickWidth": 1,
                      "labelPadding": 28, "labelFont": "DejaVu Sans Mono", "labelFontSize": 18, "labelColor": "black",
                      "labelOverlap": false, "labelFlush": false}},
       "y": {"field": "v", "type": "quantitative",
             "scale": {"type": "log", "domain": [0.1, 1000], "range": [455, 258], "nice": false},
             "axis": {"orient": "left", "offset": -117, "values": [0.1, 1, 10, 100, 1000], "format": "~g",
                      "title": "Bq/L", "titleAngle": 0, "titleX": -46, "titleY": 164, "titleAlign": "center", "titleBaseline": "middle",
                      "titleFont": "Liberation Sans", "titleFontSize": 16, "titleFontWeight": "normal", "titleColor": "black",
                      "grid": true, "gridColor": "#333333", "gridWidth": 1,
                      "domainColor": "black", "domainWidth": 1.5, "tickColor": "black", "tickSize": 5,
                      "labelPadding": 14, "labelFont": "Liberation Sans", "labelFontSize": 22, "labelColor": "black"}},
       "shape": {"field": "s", "type": "nominal",
                 "scale": {"domain": ["134L", "134", "137L", "137", "bL", "b"], "range": ["diamond", "diamond", "square", "square", "circle", "circle"]},
                 "legend": {"orient": "none", "direction": "horizontal", "legendX": 165, "legendY": 155, "columns": 2, "title": null, "strokeColor": "black", "fillColor": "white", "padding": 6, "rowPadding": 12.5, "columnPadding": 5, "labelFontSize": 17.5, "labelFont": "Noto Sans CJK JP", "labelColor": "black", "labelLimit": 0, "labelOffset": 6, "symbolSize": 50, "symbolStrokeWidth": 2,
                            "labelExpr": "datum.label == '134L' ? 'Cs-134（検出限界値）' : datum.label == '134' ? 'Cs-134\u00a0\u00a0\u00a0\u00a0\u00a0\u00a0\u00a0\u00a0\u00a0\u00a0\u00a0\u00a0\u00a0\u00a0\u00a0\u00a0\u00a0\u00a0\u00a0\u00a0\u00a0\u00a0\u00a0\u00a0\u00a0\u00a0\u00a0\u00a0\u00a0\u00a0\u00a0\u00a0\u00a0\u00a0\u200b' : datum.label == '137L' ? 'Cs-137（検出限界値）' : datum.label == '137' ? 'Cs-137' : datum.label == 'bL' ? '全β（検出限界値）' : '全β'"}},
       "fill": {"field": "s", "type": "nominal",
                "scale": {"domain": ["134L", "134", "137L", "137", "bL", "b"], "range": ["white", "#0000ff", "white", "#ff0000", "white", "#800000"]},
                "legend": {"orient": "none", "direction": "horizontal", "legendX": 165, "legendY": 155, "columns": 2, "title": null}},
       "stroke": {"field": "s", "type": "nominal",
                  "scale": {"domain": ["134L", "134", "137L", "137", "bL", "b"], "range": ["#0000ff", "#0000ff", "#ff0000", "#ff0000", "#b5541c", "#800000"]},
                  "legend": {"orient": "none", "direction": "horizontal", "legendX": 165, "legendY": 155, "columns": 2, "title": null}}
     }},
    {"data": {"name": "steps"},
     "mark": {"type": "rule", "color": "black", "strokeWidth": 2},
     "encoding": {
       "x": {"field": "d", "type": "temporal"},
       "y": {"datum": 1110000, "type": "quantitative"},
       "y2": {"datum": 1e-12}
     }},
    {"data": {"values": [{}]},
     "mark": {"type": "text", "align": "center", "baseline": "middle", "font": "Liberation Sans", "fontSize": 41, "lineHeight": 53, "color": "black"},
     "encoding": {
       "x": {"datum": {"year": 2011, "month": 8, "date": 22, "hours": 14, "utc": true}, "type": "temporal"},
       "y": {"datum": 51400000, "type": "quantitative"},
       "text": {"value": ["8/26", "STEP2移行"]}
     }},
    {"data": {"values": [{}]},
     "mark": {"type": "text", "align": "center", "baseline": "middle", "font": "Liberation Sans", "fontSize": 41, "lineHeight": 53, "color": "black"},
     "encoding": {
       "x": {"datum": {"year": 2011, "month": 10, "date": 11, "hours": 10, "utc": true}, "type": "temporal"},
       "y": {"datum": 51400000, "type": "quantitative"},
       "text": {"value": ["10/6", "STEP3移行"]}
     }},
    {"data": {"values": [{}]},
     "mark": {"type": "text", "align": "center", "baseline": "middle", "font": "Noto Sans CJK JP", "fontSize": 22, "lineHeight": 29, "color": "black"},
     "encoding": {
       "x": {"datum": {"year": 2011, "month": 8, "date": 24, "hours": 14, "utc": true}, "type": "temporal"},
       "y": {"datum": 25200, "type": "quantitative"},
       "text": {"value": ["切替C排水路35m盤出口", "（C-2-1）"]}
     }}
  ]
},
{
  "layer": [
    {"data": {"values": [{}]},
     "mark": {"type": "rect", "fillOpacity": 0, "stroke": "black", "strokeWidth": 1.5},
     "encoding": {
       "x": {"datum": {"year": 2011, "month": 3, "date": 10, "hours": 18, "utc": true}, "type": "temporal"},
       "x2": {"datum": {"year": 2011, "month": 11, "date": 6, "utc": true}},
       "y": {"datum": 389000, "type": "quantitative"},
       "y2": {"datum": 0.00286}
     }},
    {"data": {"values": [{}]},
     "mark": {"type": "rect", "fillOpacity": 0, "stroke": "#808080", "strokeWidth": 1.5},
     "encoding": {
       "x": {"datum": {"year": 2011, "month": 3, "date": 31, "hours": 12, "utc": true}, "type": "temporal"},
       "x2": {"datum": {"year": 2011, "month": 10, "date": 30, "hours": 12, "utc": true}},
       "y": {"datum": 1000, "type": "quantitative"},
       "y2": {"datum": 0.1}
     }},
    {"data": {"name": "bot"},
     "mark": {"type": "point", "size": 81, "strokeWidth": 2, "opacity": 1},
     "encoding": {
       "x": {"field": "d", "type": "temporal",
             "scale": {"type": "utc", "domain": [{"year": 2011, "month": 3, "date": 31, "hours": 12, "utc": true}, {"year": 2011, "month": 10, "date": 30, "hours": 12, "utc": true}], "range": [117, 1174], "nice": false},
             "axis": {"orient": "bottom", "offset": -61, "title": null, "grid": false,
                      "values": [{"year":2011,"month":3,"date":31,"hours":12,"utc":true},{"year":2011,"month":4,"date":14,"hours":12,"utc":true},{"year":2011,"month":4,"date":28,"hours":12,"utc":true},{"year":2011,"month":5,"date":12,"hours":12,"utc":true},{"year":2011,"month":5,"date":26,"hours":12,"utc":true},{"year":2011,"month":6,"date":9,"hours":12,"utc":true},{"year":2011,"month":6,"date":23,"hours":12,"utc":true},{"year":2011,"month":7,"date":7,"hours":12,"utc":true},{"year":2011,"month":7,"date":21,"hours":12,"utc":true},{"year":2011,"month":8,"date":4,"hours":12,"utc":true},{"year":2011,"month":8,"date":18,"hours":12,"utc":true},{"year":2011,"month":9,"date":1,"hours":12,"utc":true},{"year":2011,"month":9,"date":15,"hours":12,"utc":true},{"year":2011,"month":9,"date":29,"hours":12,"utc":true},{"year":2011,"month":10,"date":13,"hours":12,"utc":true},{"year":2011,"month":10,"date":27,"hours":12,"utc":true}],
                      "labelExpr": "utcFormat(datum.value + 43200000, '%-m/%-d')",
                      "domainColor": "black", "domainWidth": 1.5, "tickColor": "black", "tickSize": -6, "tickWidth": 1,
                      "labelPadding": 28, "labelFont": "DejaVu Sans Mono", "labelFontSize": 18, "labelColor": "black",
                      "labelOverlap": false, "labelFlush": false}},
       "y": {"field": "v", "type": "quantitative",
             "scale": {"type": "log", "domain": [0.1, 1000], "range": [866, 673], "nice": false},
             "axis": {"orient": "left", "offset": -117, "values": [0.1, 1, 10, 100, 1000], "format": "~g",
                      "title": "Bq/L", "titleAngle": 0, "titleX": -47, "titleY": 579, "titleAlign": "center", "titleBaseline": "middle",
                      "titleFont": "Liberation Sans", "titleFontSize": 16, "titleFontWeight": "normal", "titleColor": "black",
                      "grid": true, "gridColor": "#333333", "gridWidth": 1,
                      "domainColor": "black", "domainWidth": 1.5, "tickColor": "black", "tickSize": 5,
                      "labelPadding": 14, "labelFont": "Liberation Sans", "labelFontSize": 22, "labelColor": "black"}},
       "shape": {"field": "s", "type": "nominal",
                 "scale": {"domain": ["134L", "134", "137L", "137", "bL", "b"], "range": ["diamond", "diamond", "square", "square", "circle", "circle"]},
                 "legend": {"orient": "none", "direction": "horizontal", "legendX": 180, "legendY": 562, "columns": 2, "title": null, "strokeColor": "black", "fillColor": "white", "padding": 7, "rowPadding": 15.5, "columnPadding": 5, "labelFontSize": 19, "labelFont": "Noto Sans CJK JP", "labelColor": "black", "labelLimit": 0, "labelOffset": 7, "symbolSize": 50, "symbolStrokeWidth": 2,
                            "labelExpr": "datum.label == '134L' ? 'Cs-134（検出限界値）' : datum.label == '134' ? 'Cs-134\u00a0\u00a0\u00a0\u00a0\u00a0\u00a0\u00a0\u00a0\u00a0\u00a0\u00a0\u00a0\u00a0\u00a0\u00a0\u00a0\u00a0\u00a0\u00a0\u00a0\u00a0\u00a0\u00a0\u00a0\u00a0\u00a0\u00a0\u00a0\u00a0\u200b' : datum.label == '137L' ? 'Cs-137（検出限界値）' : datum.label == '137' ? 'Cs-137' : datum.label == 'bL' ? '全β（検出限界値）' : '全β'"}},
       "fill": {"field": "s", "type": "nominal",
                "scale": {"domain": ["134L", "134", "137L", "137", "bL", "b"], "range": ["white", "#0000ff", "white", "#ff0000", "white", "#800000"]},
                "legend": {"orient": "none", "direction": "horizontal", "legendX": 180, "legendY": 562, "columns": 2, "title": null}},
       "stroke": {"field": "s", "type": "nominal",
                  "scale": {"domain": ["134L", "134", "137L", "137", "bL", "b"], "range": ["#0000ff", "#0000ff", "#ff0000", "#ff0000", "#800000", "#800000"]},
                  "legend": {"orient": "none", "direction": "horizontal", "legendX": 180, "legendY": 562, "columns": 2, "title": null}}
     }},
    {"data": {"name": "steps"},
     "mark": {"type": "rule", "color": "black", "strokeWidth": 2},
     "encoding": {
       "x": {"field": "d", "type": "temporal"},
       "y": {"datum": 1000000, "type": "quantitative"},
       "y2": {"datum": 0.0001}
     }},
    {"data": {"values": [{}]},
     "mark": {"type": "text", "align": "center", "baseline": "middle", "font": "Noto Sans CJK JP", "fontSize": 23, "lineHeight": 31.5, "color": "black"},
     "encoding": {
       "x": {"datum": {"year": 2011, "month": 8, "date": 17, "hours": 10, "utc": true}, "type": "temporal"},
       "y": {"datum": 34200, "type": "quantitative"},
       "text": {"value": ["南放水口付近海水", "（排水路出口付近）", "（T-2）"]}
     }}
  ]
}
]
}
